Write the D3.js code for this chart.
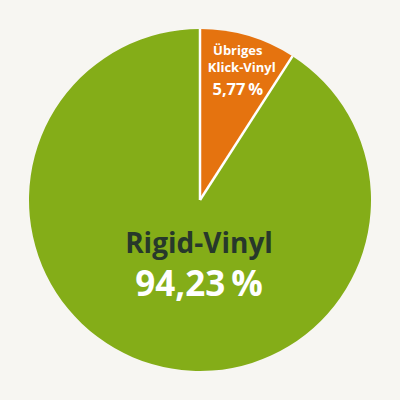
<!DOCTYPE html>
<html>
<head>
<meta charset="utf-8">
<script src="https://cdn.jsdelivr.net/npm/d3@7"></script>
<style>
  html, body { margin: 0; padding: 0; background: #f7f6f2; }
  svg { display: block; }
</style>
</head>
<body>
<div id="chart"></div>
<script>
// Chart data
const CATEGORIES = ["Übriges Klick-Vinyl", "Rigid-Vinyl"];
const LABEL_LINES = [["Übriges", "Klick-Vinyl"], ["Rigid-Vinyl"]];
const VALUES = [5.77, 94.23];
// the small slice is drawn enlarged in the original, these are the shares as drawn
const DRAWN_SHARE = [9.1, 90.9];

const COLORS = ["#e5730f", "#84ad18"];
const NAME_COLORS = ["#ffffff", "#27382b"];
const WIDTH = 400;
const HEIGHT = 400;
const RADIUS = 171;
const FONT = "'Open Sans', 'Noto Sans', sans-serif";

var svg = d3
  .select("#chart")
  .append("svg")
  .attr("width", WIDTH)
  .attr("height", HEIGHT)
  .style("background", "#f7f6f2");

var g = svg.append("g").attr("transform", `translate(200, 200)`);

// Pie layout starting at 12 o'clock, small slice first (clockwise)
var pie = d3
  .pie()
  .value((d, i) => DRAWN_SHARE[i])
  .sort(null);

var arc = d3.arc().innerRadius(0).outerRadius(RADIUS);
var labelArc = d3.arc().innerRadius(134).outerRadius(134);

var slices = pie(VALUES);

g.selectAll("path.slice")
  .data(slices)
  .enter()
  .append("path")
  .attr("class", "slice")
  .attr("d", arc)
  .attr("fill", (d, i) => COLORS[i]);

// White separators between the slices (no outline on the outer edge)
g.selectAll("line.sep")
  .data(slices)
  .enter()
  .append("line")
  .attr("class", "sep")
  .attr("x1", 0)
  .attr("y1", 0)
  .attr("x2", (d) => RADIUS * Math.sin(d.startAngle))
  .attr("y2", (d) => -RADIUS * Math.cos(d.startAngle))
  .attr("stroke", "#ffffff")
  .attr("stroke-width", 2.5);

function fmt(v) {
  return v.toFixed(2).replace(".", ",") + "\u2009%";
}

// Small slice label
var c = labelArc.centroid(slices[0]);
var small = g.append("text")
  .attr("text-anchor", "middle")
  .attr("font-family", FONT)
  .attr("font-weight", 700)
  .attr("fill", NAME_COLORS[0]);
small.append("tspan").attr("x", c[0]).attr("y", c[1] - 16).attr("font-size", 13).text(LABEL_LINES[0][0]);
small.append("tspan").attr("x", c[0] + 4).attr("y", c[1] + 0.5).attr("font-size", 13).text(LABEL_LINES[0][1]);
small.append("tspan").attr("x", c[0]).attr("y", c[1] + 23.5).attr("font-size", 16.5).text(fmt(VALUES[0]));

// Big slice label
var big = g.append("text")
  .attr("text-anchor", "middle")
  .attr("font-family", FONT)
  .attr("font-weight", 700);
big.append("tspan").attr("x", -1).attr("y", 53).attr("font-size", 28)
  .attr("fill", NAME_COLORS[1]).text(LABEL_LINES[1][0]);
big.append("tspan").attr("x", -1).attr("y", 96).attr("font-size", 35)
  .attr("fill", "#ffffff").text(fmt(VALUES[1]));
</script>
</body>
</html>
